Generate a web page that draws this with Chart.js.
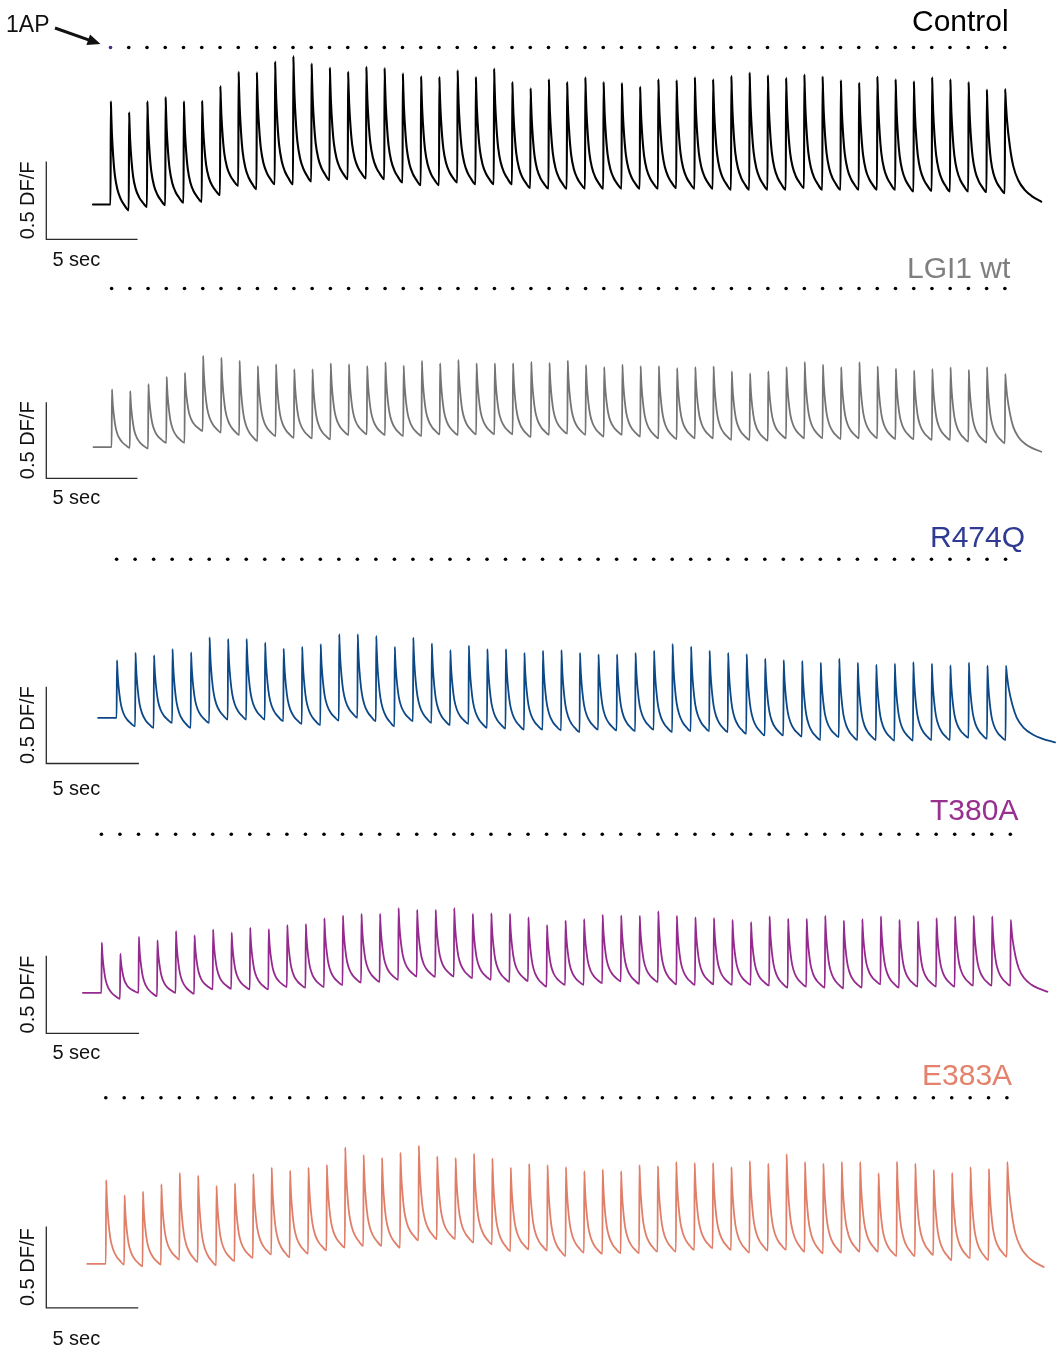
<!DOCTYPE html>
<html>
<head>
<meta charset="utf-8">
<title>1AP trains – GCaMP responses</title>
<script src="https://cdn.jsdelivr.net/npm/chart.js@4.4.1/dist/chart.umd.min.js"></script>
<style>
  html, body { margin: 0; padding: 0; background: #ffffff; }
  #fig { position: relative; width: 1056px; height: 1349px; overflow: hidden; }
  #fig canvas { position: absolute; left: 0; }
  #labels { position: absolute; left: 0; top: 0; pointer-events: none; }
  #labels text { font-family: "Liberation Sans", Arial, Helvetica, sans-serif; }
</style>
</head>
<body>
<div id="fig">
  <canvas id="c0"></canvas>
  <canvas id="c1"></canvas>
  <canvas id="c2"></canvas>
  <canvas id="c3"></canvas>
  <canvas id="c4"></canvas>
  <svg id="labels" width="1056" height="1349" xmlns="http://www.w3.org/2000/svg"></svg>
</div>
<script>
// Stimulus times (s), one action potential per second
const STIM_TIMES = [0, 1, 2, 3, 4, 5, 6, 7, 8, 9, 10, 11, 12, 13, 14, 15, 16, 17, 18, 19,
  20, 21, 22, 23, 24, 25, 26, 27, 28, 29, 30, 31, 32, 33, 34, 35, 36, 37, 38, 39,
  40, 41, 42, 43, 44, 45, 46, 47, 48, 49];

// Peak dF/F of each response and the level just before each stimulus
const CONTROL_PEAKS = [0.663, 0.593, 0.663, 0.691, 0.663, 0.667, 0.761, 0.854, 0.850, 0.920,
  0.954, 0.907, 0.880, 0.854, 0.885, 0.878, 0.843, 0.824, 0.820, 0.863,
  0.820, 0.874, 0.787, 0.748, 0.805, 0.787, 0.818, 0.787, 0.781, 0.757,
  0.805, 0.799, 0.818, 0.805, 0.827, 0.849, 0.831, 0.814, 0.836, 0.823,
  0.799, 0.783, 0.823, 0.805, 0.792, 0.818, 0.805, 0.787, 0.739, 0.743];
const CONTROL_TROUGHS = [0, -0.037, -0.015, -0.004, 0.011, 0.017, 0.061, 0.120, 0.098, 0.130,
  0.130, 0.148, 0.157, 0.163, 0.167, 0.163, 0.141, 0.124, 0.124, 0.141,
  0.130, 0.130, 0.130, 0.106, 0.102, 0.102, 0.102, 0.102, 0.102, 0.102,
  0.102, 0.106, 0.102, 0.102, 0.095, 0.095, 0.095, 0.095, 0.106, 0.095,
  0.095, 0.095, 0.095, 0.095, 0.084, 0.088, 0.084, 0.084, 0.080, 0.073];
const CONTROL_WINDOW = [-0.96, 51.0];
const CONTROL_END = 0.018;

const LGI1_PEAKS = [0.380, 0.369, 0.414, 0.463, 0.489, 0.601, 0.589, 0.569, 0.534, 0.545,
  0.512, 0.512, 0.552, 0.545, 0.534, 0.558, 0.536, 0.567, 0.552, 0.574,
  0.552, 0.552, 0.552, 0.561, 0.554, 0.570, 0.539, 0.527, 0.543, 0.534,
  0.534, 0.520, 0.527, 0.532, 0.498, 0.485, 0.498, 0.527, 0.561, 0.543,
  0.527, 0.559, 0.532, 0.516, 0.503, 0.514, 0.525, 0.509, 0.527, 0.482];
const LGI1_TROUGHS = [0, -0.004, -0.009, 0.029, 0.029, 0.107, 0.096, 0.080, 0.040, 0.073,
  0.062, 0.058, 0.051, 0.080, 0.085, 0.080, 0.073, 0.073, 0.085, 0.080,
  0.085, 0.085, 0.085, 0.066, 0.082, 0.089, 0.082, 0.070, 0.082, 0.070,
  0.059, 0.053, 0.059, 0.059, 0.048, 0.048, 0.043, 0.059, 0.059, 0.059,
  0.053, 0.059, 0.059, 0.053, 0.053, 0.048, 0.048, 0.037, 0.030, 0.026];
const LGI1_WINDOW = [-0.99, 51.0];
const LGI1_END = -0.030;

const R474Q_PEAKS = [0.374, 0.423, 0.407, 0.447, 0.425, 0.524, 0.513, 0.513, 0.489, 0.451,
  0.462, 0.480, 0.544, 0.544, 0.533, 0.462, 0.522, 0.484, 0.440, 0.469,
  0.447, 0.447, 0.423, 0.437, 0.441, 0.423, 0.412, 0.412, 0.423, 0.437,
  0.481, 0.464, 0.437, 0.423, 0.415, 0.385, 0.376, 0.370, 0.359, 0.385,
  0.359, 0.346, 0.352, 0.363, 0.352, 0.341, 0.359, 0.339, 0.339];
const R474Q_TROUGHS = [0, -0.055, -0.066, -0.033, -0.066, -0.033, -0.011, -0.011, -0.011, -0.022,
  -0.040, -0.048, -0.018, 0, -0.022, -0.055, -0.022, -0.033, -0.048, -0.040,
  -0.066, -0.070, -0.077, -0.077, -0.082, -0.093, -0.077, -0.082, -0.087, -0.077,
  -0.093, -0.087, -0.087, -0.093, -0.104, -0.115, -0.115, -0.122, -0.145, -0.126,
  -0.145, -0.145, -0.148, -0.148, -0.145, -0.145, -0.131, -0.137, -0.145];
const R474Q_WINDOW = [-1.0, 50.67];
const R474Q_END = -0.160;

const T380A_PEAKS = [0.322, 0.250, 0.359, 0.337, 0.396, 0.370, 0.407, 0.387, 0.418, 0.409,
  0.435, 0.442, 0.479, 0.496, 0.507, 0.507, 0.544, 0.533, 0.533, 0.544,
  0.507, 0.511, 0.507, 0.485, 0.436, 0.465, 0.474, 0.502, 0.497, 0.495,
  0.524, 0.495, 0.485, 0.480, 0.469, 0.454, 0.491, 0.476, 0.476, 0.495,
  0.465, 0.474, 0.491, 0.469, 0.460, 0.480, 0.491, 0.495, 0.491, 0.469];
const T380A_TROUGHS = [0, -0.039, 0, -0.022, 0, -0.007, 0.022, 0.026, 0.022, 0.022,
  0.037, 0.033, 0.037, 0.050, 0.065, 0.070, 0.083, 0.105, 0.102, 0.105,
  0.094, 0.083, 0.070, 0.076, 0.040, 0.051, 0.051, 0.062, 0.073, 0.058,
  0.069, 0.055, 0.051, 0.055, 0.051, 0.051, 0.046, 0.033, 0.040, 0.033,
  0.029, 0.033, 0.055, 0.033, 0.040, 0.040, 0.040, 0.046, 0.046, 0.046];
const T380A_WINDOW = [-1.0, 51.0];
const T380A_END = 0.007;

const E383A_PEAKS = [0.514, 0.421, 0.444, 0.489, 0.558, 0.541, 0.479, 0.494, 0.552, 0.591,
  0.572, 0.591, 0.608, 0.715, 0.668, 0.651, 0.682, 0.726, 0.659, 0.651,
  0.676, 0.647, 0.591, 0.614, 0.606, 0.594, 0.569, 0.579, 0.569, 0.606,
  0.600, 0.625, 0.619, 0.619, 0.594, 0.631, 0.615, 0.674, 0.625, 0.615,
  0.625, 0.625, 0.556, 0.627, 0.615, 0.577, 0.558, 0.594, 0.583, 0.625];
const E383A_TROUGHS = [0, -0.004, -0.015, -0.004, 0.027, 0.012, -0.008, 0.017, 0.037, 0.058,
  0.041, 0.062, 0.083, 0.100, 0.110, 0.110, 0.100, 0.145, 0.152, 0.152,
  0.131, 0.120, 0.079, 0.089, 0.082, 0.048, 0.069, 0.061, 0.065, 0.065,
  0.075, 0.075, 0.086, 0.096, 0.086, 0.069, 0.082, 0.086, 0.075, 0.065,
  0.069, 0.075, 0.075, 0.048, 0.048, 0.055, 0.023, 0.034, 0.023, 0.044];
const E383A_WINDOW = [-1.01, 51.0];
const E383A_END = -0.019;

// Average single-AP decay: seconds after the peak and fraction of the peak above the next level
const DECAY_TIMES = [0.02, 0.055, 0.13, 0.22, 0.36, 0.55, 0.73];
const DECAY_LEVELS = [0.88, 0.71, 0.49, 0.32, 0.19, 0.10, 0.05];
const RISE_TIME = 0.02;

// Scale bars
const BAR_DFF = 0.5;
const BAR_SEC = 5;

const W = 1056;

// Page layout of each panel (pixels): band, t = 0 position, seconds and dF/F to pixels,
// marker row, scale bar and text placement
const PANELS = [
  { name: 'Control', peaks: CONTROL_PEAKS, troughs: CONTROL_TROUGHS, win: CONTROL_WINDOW, end: CONTROL_END,
    n: 50, color: '#000000', labelColor: '#000000', lw: 2.1,
    top: 0, h: 270, x0: 110.5, pps: 18.25, base: 204.5, ppu: 155.5, dotsY: 47.5, barY: 239.3,
    label: [912, 31], secY: 266 },
  { name: 'LGI1 wt', peaks: LGI1_PEAKS, troughs: LGI1_TROUGHS, win: LGI1_WINDOW, end: LGI1_END,
    n: 50, color: '#747474', labelColor: '#7f7f7f', lw: 1.8,
    top: 270, h: 240, x0: 111.6, pps: 18.23, base: 447.2, ppu: 152.0, dotsY: 288.5, barY: 478.3,
    label: [907, 278], secY: 503.6 },
  { name: 'R474Q', peaks: R474Q_PEAKS, troughs: R474Q_TROUGHS, win: R474Q_WINDOW, end: R474Q_END,
    n: 49, color: '#0c4886', labelColor: '#2f3b92', lw: 1.8,
    top: 510, h: 290, x0: 116.6, pps: 18.52, base: 717.8, ppu: 153.6, dotsY: 559.2, barY: 763.5,
    label: [930, 546.5], secY: 794.6 },
  { name: 'T380A', peaks: T380A_PEAKS, troughs: T380A_TROUGHS, win: T380A_WINDOW, end: T380A_END,
    n: 50, color: '#952a8e', labelColor: '#98308f', lw: 1.8,
    top: 800, h: 262, x0: 101.4, pps: 18.55, base: 992.8, ppu: 155.4, dotsY: 834.2, barY: 1033.4,
    label: [930, 820], secY: 1059.4 },
  { name: 'E383A', peaks: E383A_PEAKS, troughs: E383A_TROUGHS, win: E383A_WINDOW, end: E383A_END,
    n: 50, color: '#e07f69', labelColor: '#e3836d', lw: 1.8,
    top: 1062, h: 287, x0: 105.8, pps: 18.39, base: 1263.9, ppu: 163.0, dotsY: 1097.8, barY: 1307.9,
    label: [922, 1085], secY: 1344.7 }
];
const BAR_X = 46.3;

// Trace: flat pre-stimulus level, a fast rise at each stimulus, then the decay to the next level
function buildTrace(times, peaks, troughs, win, endLevel) {
  const pts = [{ x: win[0], y: troughs[0] }];
  for (let i = 0; i < peaks.length; i++) {
    const t = times[i];
    pts.push({ x: t, y: troughs[i] });
    pts.push({ x: t + RISE_TIME, y: peaks[i] });
    const last = i === peaks.length - 1;
    const nextT = last ? win[1] : times[i + 1];
    const nextV = last ? endLevel : troughs[i + 1];
    const span = nextT - t;
    for (let k = 0; k < DECAY_TIMES.length; k++) {
      pts.push({ x: t + RISE_TIME + DECAY_TIMES[k] * span, y: nextV + (peaks[i] - nextV) * DECAY_LEVELS[k] });
    }
  }
  pts.push({ x: win[1], y: endLevel });
  return pts;
}

// "1AP" arrow pointing at the first stimulus marker of the top panel
const arrowPlugin = {
  id: 'apArrow',
  afterDatasetsDraw(chart, args, opts) {
    if (!opts || !opts.enabled) return;
    const xs = chart.scales.x, ys = chart.scales.y;
    const px = xs.getPixelForValue(opts.t), py = ys.getPixelForValue(opts.v);
    const tip = { x: px - 10, y: py - 3.5 };
    const tail = { x: px - 55.5, y: py - 19.5 };
    const ang = Math.atan2(tip.y - tail.y, tip.x - tail.x);
    const headL = 13, headW = 5.5;
    const ctx = chart.ctx;
    ctx.save();
    ctx.strokeStyle = '#111';
    ctx.fillStyle = '#111';
    ctx.lineWidth = 3;
    ctx.beginPath();
    ctx.moveTo(tail.x, tail.y);
    ctx.lineTo(tip.x - Math.cos(ang) * headL * 0.8, tip.y - Math.sin(ang) * headL * 0.8);
    ctx.stroke();
    ctx.beginPath();
    ctx.moveTo(tip.x, tip.y);
    ctx.lineTo(tip.x - Math.cos(ang) * headL + Math.sin(ang) * headW, tip.y - Math.sin(ang) * headL - Math.cos(ang) * headW);
    ctx.lineTo(tip.x - Math.cos(ang) * headL - Math.sin(ang) * headW, tip.y - Math.sin(ang) * headL + Math.cos(ang) * headW);
    ctx.closePath();
    ctx.fill();
    ctx.restore();
  }
};

const svg = document.getElementById('labels');
function addText(str, x, y, size, color, extra) {
  const el = document.createElementNS('http://www.w3.org/2000/svg', 'text');
  el.setAttribute('x', x);
  el.setAttribute('y', y);
  el.setAttribute('font-size', size);
  el.setAttribute('fill', color);
  if (extra) for (const k in extra) el.setAttribute(k, extra[k]);
  el.textContent = str;
  svg.appendChild(el);
  return el;
}

PANELS.forEach((p, idx) => {
  const canvas = document.getElementById('c' + idx);
  canvas.width = W;
  canvas.height = p.h;
  canvas.style.top = p.top + 'px';
  canvas.style.width = W + 'px';
  canvas.style.height = p.h + 'px';

  const times = STIM_TIMES.slice(0, p.n);
  const baseLocal = p.base - p.top;
  const toVal = (absY) => (p.base - absY) / p.ppu;
  const dotsV = toVal(p.dotsY);
  const barV = toVal(p.barY);
  const barT = (BAR_X - p.x0) / p.pps;

  const trace = buildTrace(times, p.peaks, p.troughs, p.win, p.end);
  const dots = times.map(t => ({ x: t, y: dotsV }));
  const dotColors = times.map((t, i) => (idx === 0 && i === 0) ? '#4b2a82' : '#000000');
  const bar = [
    { x: barT, y: barV + BAR_DFF },
    { x: barT, y: barV },
    { x: barT + BAR_SEC, y: barV }
  ];

  new Chart(canvas, {
    type: 'line',
    data: {
      datasets: [
        { label: p.name, data: trace, borderColor: p.color, borderWidth: p.lw,
          pointRadius: 0, fill: false, cubicInterpolationMode: 'monotone',
          borderJoinStyle: 'round', borderCapStyle: 'round', clip: false },
        { type: 'scatter', label: 'stimuli', data: dots, showLine: false,
          pointRadius: 1.8, pointBorderWidth: 0, pointBackgroundColor: dotColors, pointBorderColor: dotColors },
        { label: 'scale', data: bar, borderColor: '#2a2a2a', borderWidth: 1.3, pointRadius: 0,
          tension: 0, fill: false, borderJoinStyle: 'miter', clip: false }
      ]
    },
    options: {
      responsive: false,
      maintainAspectRatio: false,
      animation: false,
      events: [],
      layout: { padding: 0, autoPadding: false },
      plugins: {
        legend: { display: false },
        tooltip: { enabled: false },
        apArrow: { enabled: idx === 0, t: times[0], v: dotsV }
      },
      scales: {
        x: { type: 'linear', display: false, min: -p.x0 / p.pps, max: (W - p.x0) / p.pps },
        y: { type: 'linear', display: false, min: (baseLocal - p.h) / p.ppu, max: baseLocal / p.ppu }
      }
    },
    plugins: [arrowPlugin]
  });

  // Texts: condition name, scale bar captions
  addText(p.name, p.label[0], p.label[1], 30, p.labelColor);
  const barMid = p.barY - BAR_DFF * p.ppu / 2;
  addText('0.5 DF/F', 0, 0, 20, '#111', {
    'text-anchor': 'middle',
    transform: 'translate(34.2,' + barMid.toFixed(1) + ') rotate(-90)'
  });
  addText('5 sec', 52.4, p.secY, 20, '#111');
});
addText('1AP', 6, 32, 23, '#111');
</script>
</body>
</html>
